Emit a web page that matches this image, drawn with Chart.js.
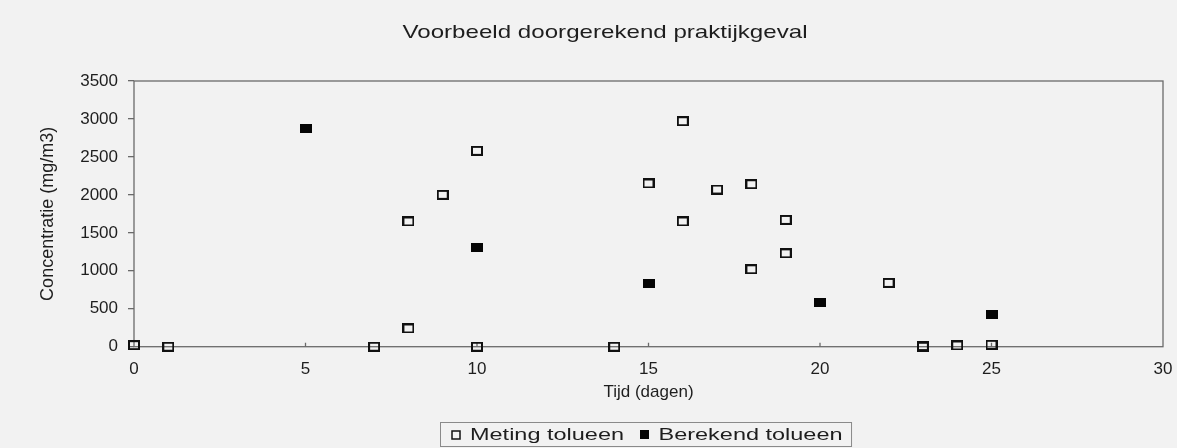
<!DOCTYPE html>
<html>
<head>
<meta charset="utf-8">
<script src="https://cdn.jsdelivr.net/npm/chart.js@4/dist/chart.umd.min.js"></script>
<style>
  html, body { margin: 0; padding: 0; background: #f2f2f2; }
  #wrap { width: 1177px; height: 448px; }
</style>
</head>
<body>
<div id="wrap"><canvas id="c" width="1177" height="448"></canvas></div>
<script>
// ---- chart data ----
const chartTitle = 'Voorbeeld doorgerekend praktijkgeval';
const xAxisTitle = 'Tijd (dagen)';
const yAxisTitle = 'Concentratie (mg/m3)';
const seriesNames = ['Meting tolueen', 'Berekend tolueen'];

const metingDays = [0, 1, 7, 8, 8, 9, 10, 10, 14, 15, 16, 16, 17, 18, 18, 19, 19, 22, 23, 23, 24, 25];
const metingConc = [20, 0, 0, 240, 1650, 2000, 2580, 0, 0, 2150, 2970, 1650, 2070, 2140, 1020, 1670, 1230, 840, 0, 8, 16, 25];

const berekendDays = [5, 10, 15, 20, 25];
const berekendConc = [2870, 1310, 830, 580, 425];

const xMin = 0, xMax = 30, xStep = 5;
const yMin = 0, yMax = 3500, yStep = 500;

// ---- styling ----
const FONT = "'Liberation Sans', Arial, Helvetica, sans-serif";
const TEXT = '#1e1e1e';
const AXIS = '#6a6a6a';

function makeSquare(w, h, filled) {
  const c = document.createElement('canvas');
  c.width = w; c.height = h;
  const g = c.getContext('2d');
  if (filled) {
    g.fillStyle = '#050505';
    g.fillRect(0, 0, w, h);
  } else {
    g.strokeStyle = '#111';
    g.lineWidth = 2;
    g.strokeRect(1, 1, w - 2, h - 2);
  }
  return c;
}
const openSq = makeSquare(12, 10, false);
const fillSq = makeSquare(12, 9, true);

const decor = {
  id: 'decor',
  beforeDatasetsDraw(chart) {
    const { ctx, chartArea: a } = chart;
    ctx.save();
    ctx.strokeStyle = AXIS;
    ctx.lineWidth = 1.3;
    ctx.strokeRect(a.left, a.top, a.right - a.left, a.bottom - a.top);
    const xs = chart.scales.x;
    ctx.beginPath();
    xs.ticks.forEach(t => {
      const px = xs.getPixelForValue(t.value);
      if (px > a.left + 1 && px < a.right - 1) {
        ctx.moveTo(px, a.bottom);
        ctx.lineTo(px, a.bottom - 4);
      }
    });
    ctx.stroke();
    ctx.restore();
  },
  afterDraw(chart) {
    const ctx = chart.ctx;
    // title
    const text = chart.options.plugins.title.text;
    ctx.save();
    ctx.fillStyle = TEXT;
    ctx.font = '19px ' + FONT;
    ctx.textBaseline = 'alphabetic';
    ctx.textAlign = 'center';
    const tw = ctx.measureText(text).width;
    ctx.translate(605, 38.3);
    ctx.scale(405 / tw, 1);
    ctx.fillText(text, 0, 0);
    ctx.restore();

    // legend
    const dsets = chart.data.datasets;
    ctx.save();
    ctx.font = '16px ' + FONT;
    ctx.textBaseline = 'alphabetic';
    ctx.textAlign = 'left';
    ctx.fillStyle = TEXT;
    const lsx = 154 / ctx.measureText(dsets[0].label).width;
    const boxLeft = 440.5;
    let x = boxLeft + 11;
    const cy = 434.5;
    dsets.forEach((ds, i) => {
      if (ds.legendFill) {
        ctx.fillStyle = '#050505';
        ctx.fillRect(x, cy - 4.5, 9, 9);
      } else {
        ctx.strokeStyle = '#111';
        ctx.lineWidth = 1.5;
        ctx.strokeRect(x + 0.5, cy - 3.5, 8, 8);
      }
      x += 9 + 9.5;
      ctx.fillStyle = TEXT;
      const w = ctx.measureText(ds.label).width * lsx;
      ctx.save();
      ctx.translate(x, 440.3);
      ctx.scale(lsx, 1);
      ctx.fillText(ds.label, 0, 0);
      ctx.restore();
      x += w + (i < dsets.length - 1 ? 16 : 0);
    });
    const boxRight = x + 9;
    ctx.strokeStyle = '#8a8a8a';
    ctx.lineWidth = 1;
    ctx.strokeRect(boxLeft, 422.5, boxRight - boxLeft, 24);
    ctx.restore();
  }
};

new Chart(document.getElementById('c'), {
  type: 'scatter',
  data: {
    datasets: [
      {
        label: seriesNames[0],
        data: metingDays.map((d, i) => ({ x: d, y: metingConc[i] })),
        pointStyle: openSq,
        pointRadius: 6,
        pointHoverRadius: 6,
        clip: false,
        legendFill: false
      },
      {
        label: seriesNames[1],
        data: berekendDays.map((d, i) => ({ x: d, y: berekendConc[i] })),
        pointStyle: fillSq,
        pointRadius: 6,
        pointHoverRadius: 6,
        clip: false,
        legendFill: true
      }
    ]
  },
  options: {
    responsive: false,
    animation: false,
    devicePixelRatio: 1,
    layout: { padding: { top: 81, left: 0, right: 14, bottom: 41.3 } },
    plugins: {
      legend: { display: false },
      title: { display: false, text: chartTitle },
      tooltip: { enabled: false }
    },
    scales: {
      x: {
        type: 'linear',
        min: xMin, max: xMax,
        ticks: { stepSize: xStep, padding: 12, color: TEXT, font: { family: FONT, size: 17 }, callback: v => String(v) },
        grid: { display: false, drawTicks: false },
        border: { display: false },
        title: { display: true, text: xAxisTitle, color: TEXT, font: { family: FONT, size: 17 }, padding: { top: 0, bottom: 4 } },
        afterFit(s) { s.height = 60; s.paddingLeft = 0; s.paddingRight = 0; }
      },
      y: {
        type: 'linear',
        min: yMin, max: yMax,
        ticks: { stepSize: yStep, padding: 10, color: TEXT, font: { family: FONT, size: 17 }, callback: v => String(v) },
        grid: { display: true, drawOnChartArea: false, drawTicks: true, tickLength: 6, color: AXIS, lineWidth: 1.3 },
        border: { display: false },
        title: { display: true, text: yAxisTitle, color: TEXT, font: { family: FONT, size: 18 }, padding: { top: 37.6, bottom: 0 } },
        afterFit(s) { s.width = 134; s.paddingTop = 0; s.paddingBottom = 0; }
      }
    }
  },
  plugins: [decor]
});
</script>
</body>
</html>
